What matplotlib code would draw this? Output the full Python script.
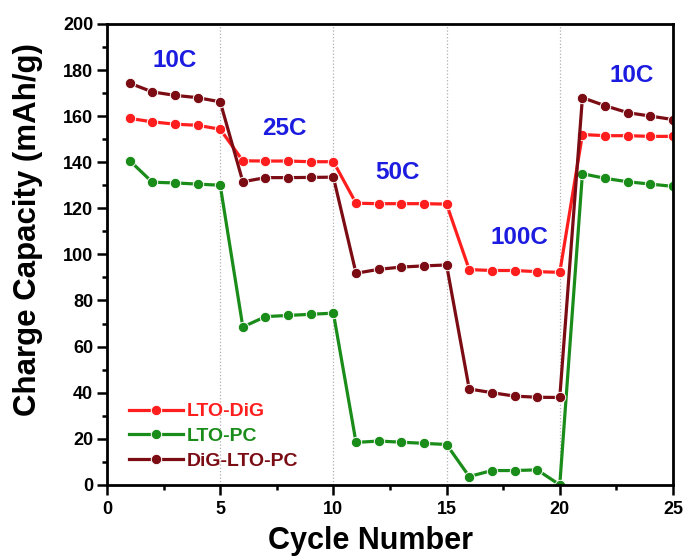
import matplotlib
matplotlib.use("Agg")
import matplotlib.pyplot as plt
from matplotlib.ticker import MultipleLocator

plt.rcParams['font.family'] = ['Liberation Sans', 'DejaVu Sans']
plt.rcParams['font.weight'] = 'bold'

cycles = list(range(1, 26))
lto_dig = [159, 157.5, 156.5, 156, 154.3,
           140.6, 140.5, 140.5, 140.2, 140.2,
           122.2, 122, 122, 122, 121.8,
           93.4, 93, 93, 92.5, 92.2,
           152, 151.5, 151.5, 151.2, 151.2]
lto_pc = [140.7, 131.3, 131, 130.5, 130,
          68.5, 73, 73.5, 74, 74.5,
          18.4, 19, 18.5, 18, 17.5,
          3.6, 6.2, 6.2, 6.5, 0,
          135, 133, 131.5, 130.5, 129.5]
dig_lto_pc = [174.3, 170.5, 169, 168, 166.2,
              131.5, 133.3, 133.3, 133.4, 133.5,
              91.8, 93.5, 94.5, 95, 95.4,
              41.6, 40, 38.5, 38, 37.9,
              168, 164.5, 161.5, 160, 158.5]
series_names = ['LTO-DiG', 'LTO-PC', 'DiG-LTO-PC']
series_colors = ['#ff1e1e', '#1a8c1a', '#7b0c14']
rate_labels = ['10C', '25C', '50C', '100C', '10C']
rate_label_pos = [(3.0, 184), (7.85, 154.5), (12.85, 135.4), (18.24, 107.2), (23.19, 177.4)]
boundaries = [5, 10, 15, 20]

fig = plt.figure(figsize=(6.86, 5.56), dpi=100)
ax = fig.add_axes([0.156, 0.128, 0.825, 0.829])

for b in boundaries:
    ax.axvline(b, color='#b0b0b0', linestyle=':', linewidth=0.9, zorder=0)

for vals, name, col in zip([lto_dig, lto_pc, dig_lto_pc], series_names, series_colors):
    ax.plot(cycles, vals, '-', color=col, linewidth=2.3, marker='o', markersize=7.5,
            markerfacecolor=col, markeredgecolor='white', markeredgewidth=0.7, label=name)

for lab, (x, y) in zip(rate_labels, rate_label_pos):
    ax.text(x, y, lab, color='#1c1ce0', fontsize=17.5, fontweight='bold', ha='center', va='center')

ax.set_xlim(0, 25)
ax.set_ylim(0, 200)
ax.xaxis.set_major_locator(MultipleLocator(5))
ax.xaxis.set_minor_locator(MultipleLocator(2.5))
ax.yaxis.set_major_locator(MultipleLocator(20))
ax.yaxis.set_minor_locator(MultipleLocator(10))
ax.tick_params(axis='both', which='major', direction='out', length=7, width=1.8, labelsize=13)
ax.tick_params(axis='both', which='minor', direction='out', length=3.5, width=1.8)
ax.tick_params(axis='x', which='major', pad=5)
ax.tick_params(axis='y', which='major', pad=3)
for lbl in ax.get_xticklabels() + ax.get_yticklabels():
    lbl.set_fontweight('bold')
for s in ax.spines.values():
    s.set_linewidth(2)

ax.set_xlabel('Cycle Number', fontsize=22, fontweight='bold')
ax.set_ylabel('Charge Capacity (mAh/g)', fontsize=22.5, fontweight='bold')
ax.xaxis.set_label_coords(0.465, -0.089)
ax.yaxis.set_label_coords(-0.113, 0.553)

leg = ax.legend(loc='lower left', bbox_to_anchor=(0.021, 0.012), frameon=False, borderpad=0,
                fontsize=14, handlelength=2.8, handletextpad=0.2, labelspacing=0.36)
for txt, col in zip(leg.get_texts(), series_colors):
    txt.set_color(col)
    txt.set_fontweight('bold')

fig.savefig('out.png', dpi=100)
